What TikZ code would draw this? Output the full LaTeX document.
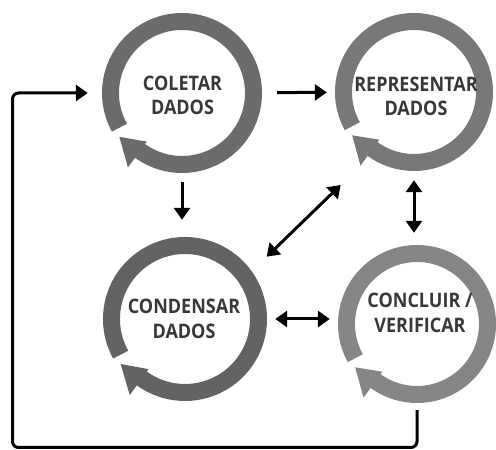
\documentclass[tikz,border=0pt]{standalone}
\usepackage{fontspec}
\newfontfamily\labelfont{Open Sans}[FakeStretch=0.9]
\usetikzlibrary{arrows.meta,calc}

\definecolor{ringA}{HTML}{6B6B6B}
\definecolor{ringB}{HTML}{787878}
\definecolor{ringC}{HTML}{636363}
\definecolor{ringD}{HTML}{868686}
\definecolor{textgray}{HTML}{383838}

% circular "cycle" arrow: #1 centre node, #2 outer radius, #3 colour
\newcommand\cyclearrow[3]{%
  \pgfmathsetmacro\cycMid{#2-8.5}%
  \pgfmathsetmacro\cycIn{#2-20}%
  \pgfmathsetmacro\cycOut{#2+12}%
  \pgfmathsetmacro\cycTip{#2-3.5}%
  \draw[line width=17pt,#3] ([shift={(209:\cycMid)}]#1.center)
    arc[start angle=209,end angle=-126.5,radius=\cycMid];
  \fill[#3] ([shift={(234:\cycIn)}]#1.center) -- ([shift={(234:\cycOut)}]#1.center)
    -- ([shift={(215:\cycTip)}]#1.center) -- cycle;
}

\begin{document}
\begin{tikzpicture}[x=1pt,y=1pt,
  ring/.style={circle,inner sep=0pt,minimum size=#1},
  ringtext/.style={font=\labelfont\bfseries\fontsize{20}{24.5}\selectfont,text=textgray,align=center,inner sep=0pt},
  conn/.style={line width=3pt,-{Triangle[length=12pt,width=16pt]}},
  both/.style={line width=3pt,{Triangle[length=12pt,width=16pt]}-{Triangle[length=12pt,width=16pt]}}
]
\useasboundingbox (0,0) rectangle (496,450);

% the four stages
\node[ring=160pt] (r1) at (182,357) {};
\node[ring=158pt] (r2) at (414,358) {};
\node[ring=164pt] (r3) at (185,131) {};
\node[ring=158pt] (r4) at (417,126) {};

\cyclearrow{r1}{80}{ringA}
\cyclearrow{r2}{79}{ringB}
\cyclearrow{r3}{82}{ringC}
\cyclearrow{r4}{79}{ringD}

\node[ringtext] (t1) at (182.5,354.5) {COLETAR\\DADOS};
\node[ringtext] (t2) at (416,353.5) {REPRESENTAR\\DADOS};
\node[ringtext] (t3) at (184,131) {CONDENSAR\\DADOS};
\node[ringtext] (t4) at (420,137) {CONCLUIR /\\VERIFICAR};

% connectors
\draw[conn,shorten <=15pt,shorten >=8pt] (r1) -- (r2);
\draw[conn,shorten <=9pt,shorten >=17pt] (r1.south) -- (r1.south |- r3.north);
\coordinate (d1) at (266.7,193.3);
\coordinate (d2) at (340.7,265);
\draw[both] (d1) -- (d2);
\draw[both,shorten <=9pt,shorten >=12pt] (r2.south) -- (r2.south |- r4.north);
\draw[both,shorten <=8pt,shorten >=8pt] (r3.east) -- (r3.east -| r4.west);

% feedback loop back to the first stage
\coordinate (loopbase) at (12.5,2.5);
\draw[conn,rounded corners=6pt,shorten <=7pt,shorten >=14pt]
  (r4.south) -- (r4.south |- loopbase) -- (loopbase) -- (loopbase |- r1.west) -- (r1.west);
\end{tikzpicture}
\end{document}
